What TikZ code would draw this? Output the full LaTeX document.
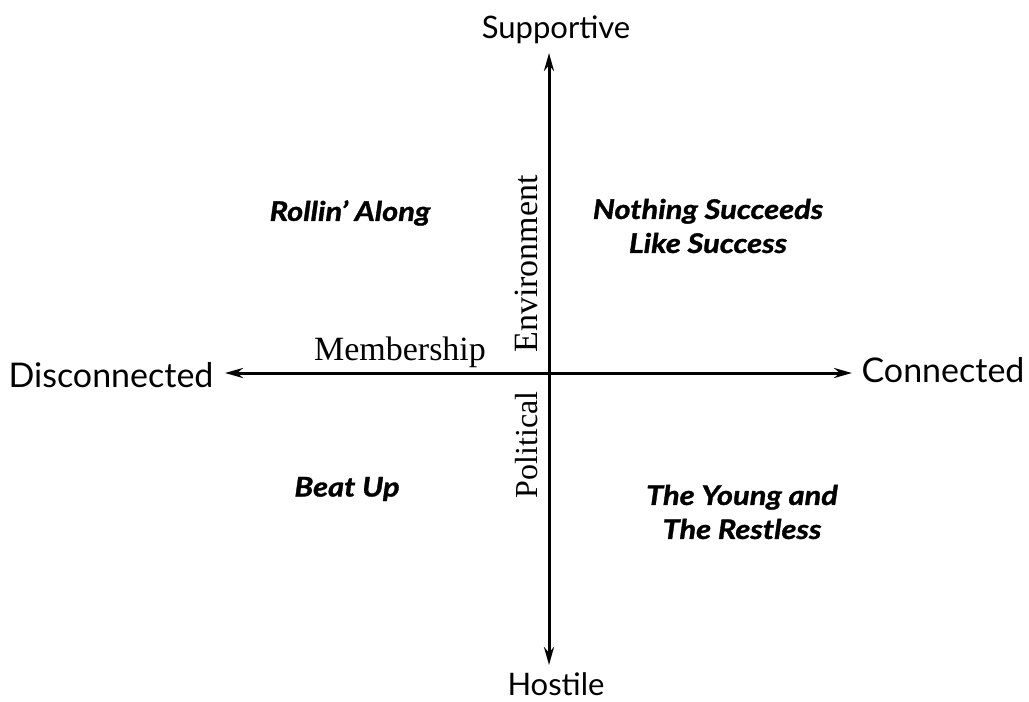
\documentclass[tikz,border=0pt]{standalone}
\usepackage{fontspec}
\setmainfont{Liberation Serif}
\newfontfamily\axisfont{Lato}
\newfontfamily\quadfont{Lato}[UprightFont=* Bold Italic, FakeStretch=1.14, FakeBold=1.2]
\usetikzlibrary{arrows.meta}
\begin{document}
\begin{tikzpicture}[x=1pt,y=-1pt,
  axislabel/.style={font=\axisfont\fontsize{31}{36}\selectfont, inner sep=0pt},
  widelabel/.style={font=\axisfont\fontsize{34}{38}\selectfont, inner sep=0pt},
  quadlabel/.style={font=\quadfont\fontsize{27}{34}\selectfont, align=center, inner sep=0pt},
  dimlabel/.style={font=\fontsize{34}{38}\selectfont, inner sep=0pt},
  axisline/.style={line width=3pt, {Stealth[length=18pt,width=10pt]}-{Stealth[length=18pt,width=10pt]}}]
\useasboundingbox (0,0) rectangle (1029,702);
\fill[white] (0,0) rectangle (1029,702);
% axis end points
\coordinate (top) at (549,53);
\coordinate (bottom) at (549,665);
\coordinate (left) at (225,373);
\coordinate (right) at (852,373);
\draw[axisline] (bottom) -- (top);
\draw[axisline] (left) -- (right);
% axis labels
\node[axislabel] (sup) at (556,30) {Supportive};
\node[axislabel] (hos) at (556,684) {Hostile};
\node[widelabel] (dis) at (111,375) {Disconnected};
\node[widelabel] (con) at (943,370) {Connected};
% dimension labels
\node[dimlabel] (mem) at (400,352) {Membership};
\node[dimlabel, rotate=90] (env) at (526,264) {Environment};
\node[dimlabel, font=\fontsize{32}{36}\selectfont, rotate=90] (pol) at (527,445) {Political};
% quadrant labels
\node[quadlabel] (q1) at (350,213) {Rollin’ Along};
\node[quadlabel] (q2) at (708,226) {Nothing Succeeds\\Like Success};
\node[quadlabel] (q3) at (347,489) {Beat Up};
\node[quadlabel] (q4) at (742,512) {The Young and\\The Restless};
\end{tikzpicture}
\end{document}
